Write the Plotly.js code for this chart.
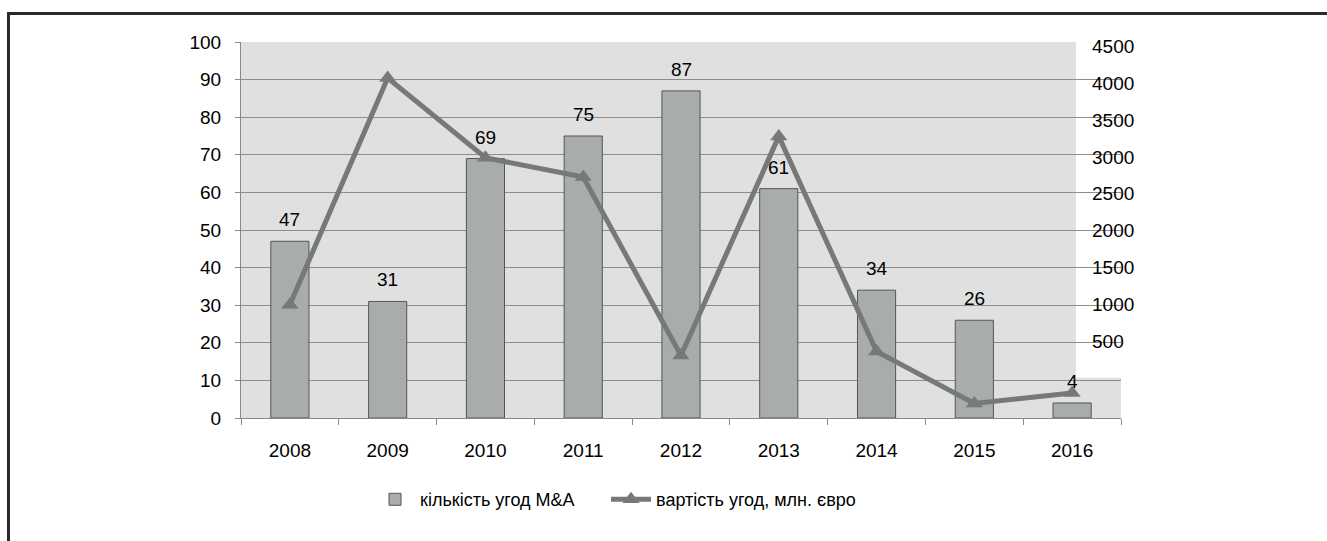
<!DOCTYPE html>
<html>
<head>
<meta charset="utf-8">
<script src="https://cdn.plot.ly/plotly-3.0.1.min.js"></script>
<style>
  html, body { margin: 0; padding: 0; background: #fff; }
  #wrap { position: relative; width: 1327px; height: 541px; overflow: hidden; }
  #chart { position: absolute; left: 0; top: 0; width: 1327px; height: 541px; }
  #frame { position: absolute; left: 7px; top: 12px; width: 1340px; height: 560px;
           border-top: 3px solid #2b2b2b; border-left: 3px solid #2b2b2b; pointer-events: none; }
</style>
</head>
<body>
<div id="wrap">
  <div id="chart"></div>
  <div id="frame"></div>
</div>
<script>
// ---- data ----
const years = ['2008', '2009', '2010', '2011', '2012', '2013', '2014', '2015', '2016'];
const dealCount = [47, 31, 69, 75, 87, 61, 34, 26, 4];
const dealValue = [1000, 4070, 2990, 2730, 310, 3280, 365, -338, -198];
const leftTicks = [0, 10, 20, 30, 40, 50, 60, 70, 80, 90, 100];
const rightTicks = [500, 1000, 1500, 2000, 2500, 3000, 3500, 4000, 4500];
const seriesNames = ['кількість угод M&A', 'вартість угод, млн. євро'];

const FONT = 'Liberation Sans, Arial, sans-serif';
const FS = 19;

const barTrace = {
  type: 'bar',
  x: years,
  y: dealCount,
  name: seriesNames[0],
  width: 0.39,
  legend: 'legend',
  marker: { color: '#a9acac', line: { color: '#555555', width: 1 } },
  hoverinfo: 'x+y'
};

const lineTrace = {
  type: 'scatter',
  mode: 'lines+markers',
  x: years,
  y: dealValue,
  yaxis: 'y2',
  legend: 'legend2',
  name: seriesNames[1],
  line: { color: '#76797a', width: 5 },
  marker: { symbol: 'triangle-up', size: 15, color: '#76797a' },
  cliponaxis: false
};

// data labels above bars (category axis: x given as the category index)
const barLabels = years.map((yr, i) => ({
  x: i, y: dealCount[i], xref: 'x', yref: 'y',
  text: String(dealCount[i]), showarrow: false,
  yanchor: 'bottom', yshift: 9,
  font: { family: FONT, size: FS, color: '#000' }
}));

// secondary-axis tick labels, placed on the y2 scale
const rightLabels = rightTicks.map(v => ({
  x: 0.9648, xref: 'paper', xanchor: 'left',
  y: v, yref: 'y2', yanchor: 'middle',
  text: String(v), showarrow: false,
  font: { family: FONT, size: FS, color: '#000' }
}));

const legendFont = { family: FONT, size: 18, color: '#000' };

const layout = {
  width: 1327, height: 541,
  margin: { l: 241, r: 206, t: 42, b: 123 },
  paper_bgcolor: '#ffffff',
  plot_bgcolor: '#e0e0e0',
  font: { family: FONT, size: FS, color: '#000' },
  showlegend: true,
  bargap: 0.61,
  xaxis: {
    type: 'category',
    range: [-0.5, 8.5],
    tickson: 'boundaries',
    ticks: 'outside', ticklen: 6, tickcolor: '#8a8a8a', tickwidth: 1,
    showline: true, linecolor: '#8a8a8a', linewidth: 1,
    showgrid: false, zeroline: false,
    ticklabelstandoff: 15,
    tickfont: { family: FONT, size: FS, color: '#000' }
  },
  yaxis: {
    range: [0, 100],
    tickvals: leftTicks,
    ticks: 'outside', ticklen: 5, tickcolor: '#8a8a8a', tickwidth: 1,
    showline: true, linecolor: '#8a8a8a', linewidth: 1,
    showgrid: true, gridcolor: '#8d8d8d', gridwidth: 1,
    zeroline: false,
    ticklabelstandoff: 10,
    tickfont: { family: FONT, size: FS, color: '#000' }
  },
  yaxis2: {
    overlaying: 'y',
    side: 'right',
    range: [-536, 4559],
    tickvals: rightTicks,
    ticks: '',
    showticklabels: false,
    showline: false, showgrid: false, zeroline: false
  },
  legend: {
    orientation: 'h',
    x: 0.1466, xanchor: 'left',
    y: -0.217, yanchor: 'middle',
    font: legendFont,
    bgcolor: 'rgba(0,0,0,0)',
    itemwidth: 40
  },
  legend2: {
    orientation: 'h',
    x: 0.4148, xanchor: 'left',
    y: -0.217, yanchor: 'middle',
    font: legendFont,
    bgcolor: 'rgba(0,0,0,0)',
    itemwidth: 40
  },
  shapes: [{
    type: 'rect', xref: 'paper', yref: 'paper',
    x0: 0.9489, x1: 1.0, y0: 0.107, y1: 1.01,
    fillcolor: '#ffffff', line: { width: 0 }, layer: 'between'
  }],
  annotations: barLabels.concat(rightLabels)
};

Plotly.newPlot('chart', [barTrace, lineTrace], layout, { displayModeBar: false, staticPlot: true });
</script>
</body>
</html>
